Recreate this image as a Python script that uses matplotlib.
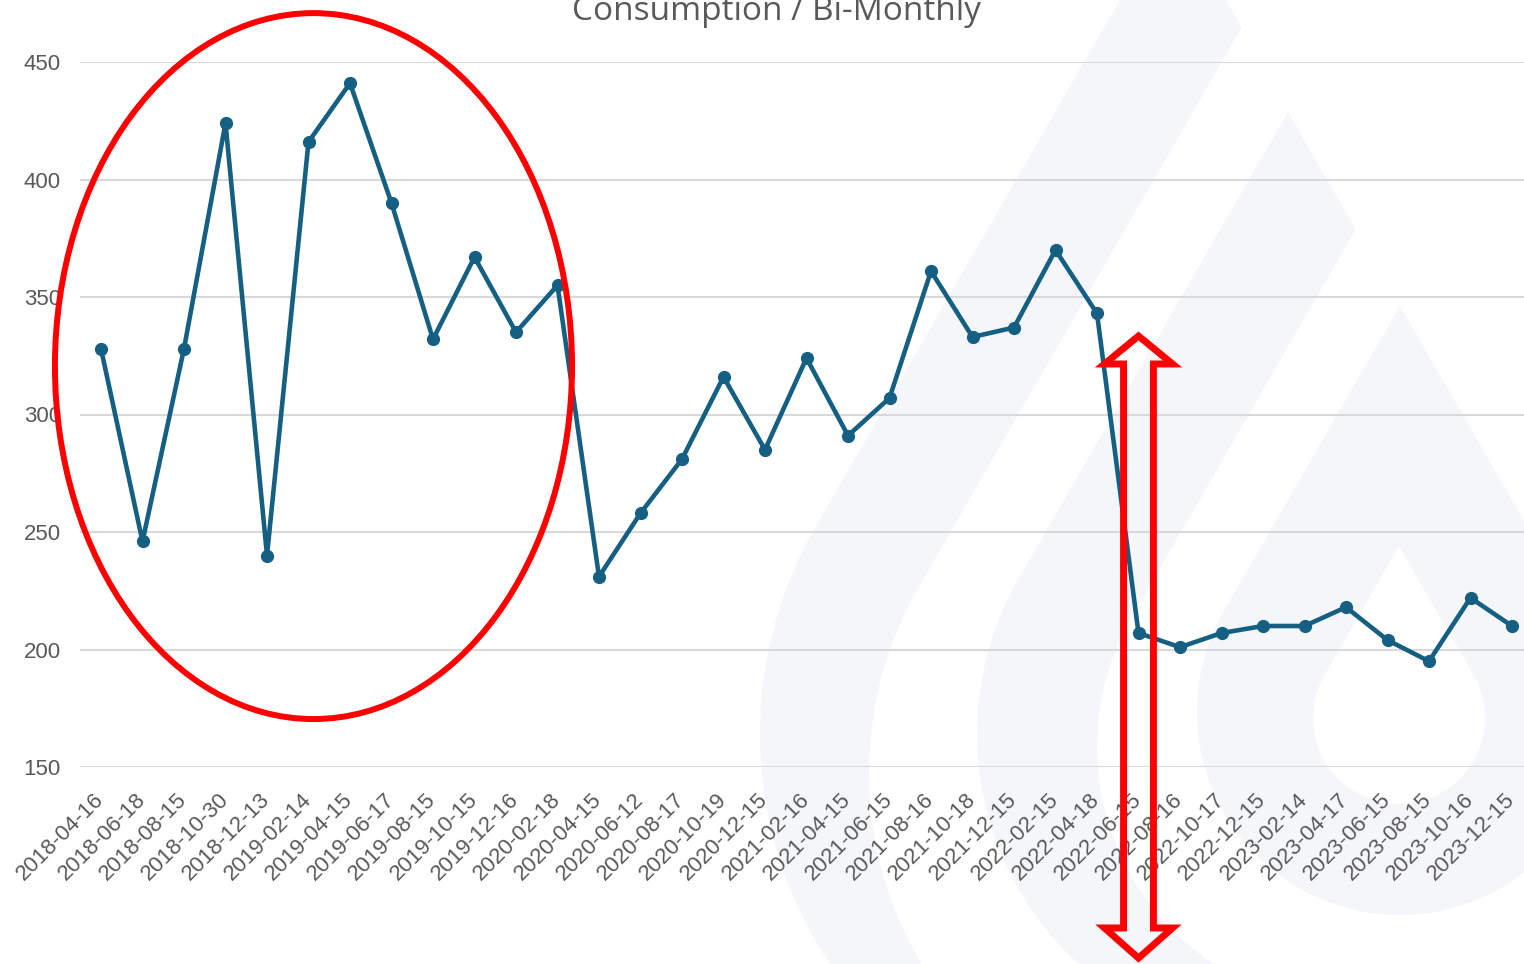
import numpy as np
import matplotlib
matplotlib.use("Agg")
import matplotlib.pyplot as plt
from matplotlib.patches import Ellipse, Polygon

dates = ["2018-04-16", "2018-06-18", "2018-08-15", "2018-10-30", "2018-12-13",
         "2019-02-14", "2019-04-15", "2019-06-17", "2019-08-15", "2019-10-15",
         "2019-12-16", "2020-02-18", "2020-04-15", "2020-06-12", "2020-08-17",
         "2020-10-19", "2020-12-15", "2021-02-16", "2021-04-15", "2021-06-15",
         "2021-08-16", "2021-10-18", "2021-12-15", "2022-02-15", "2022-04-18",
         "2022-06-15", "2022-08-16", "2022-10-17", "2022-12-15", "2023-02-14",
         "2023-04-17", "2023-06-15", "2023-08-15", "2023-10-16", "2023-12-15"]
consumption = [328, 246, 328, 424, 240, 416, 441, 390, 332, 367,
               335, 355, 231, 258, 281, 316, 285, 324, 291, 307,
               361, 333, 337, 370, 343, 207, 201, 207, 210, 210,
               218, 204, 195, 222, 210]
yticks = [150, 200, 250, 300, 350, 400, 450]

W, H = 1524, 964
fig = plt.figure(figsize=(W / 100, H / 100), dpi=100)

# faint logo in the background, laid out in pixel units
bg = fig.add_axes([0, 0, 1, 1], zorder=0)
bg.set_xlim(0, W)
bg.set_ylim(H, 0)
bg.axis("off")


def droplet(cx, cy, r, n=120):
    phi = np.radians(np.linspace(30, -210, n))
    xs = cx + r * np.cos(phi)
    ys = cy - r * np.sin(phi)
    pts = [(cx, cy - 2 * r)] + list(zip(xs, ys))
    return pts


pale = "#f4f6fa"
for (cx, cy, r), col in [((1173, 734, 413), pale), ((1242, 773, 373), "white"),
                         ((1288, 734, 311), pale), ((1357, 747, 260), "white"),
                         ((1400, 712, 203), pale), ((1399, 718, 86), "white")]:
    bg.add_patch(Polygon(droplet(cx, cy, r), closed=True, fc=col, ec="none"))

ax = fig.add_axes([80.25 / W, 197 / H, 1452.5 / W, 705 / H], zorder=1)
ax.set_facecolor("none")

x = np.arange(len(dates))
ax.plot(x, consumption, color="#156082", lw=3.3, marker="o", ms=8.5,
        solid_joinstyle="round", zorder=3)

ax.set_xlim(-0.5, len(dates) - 0.5)
ax.set_ylim(150, 450)
ax.set_yticks(yticks)
ax.set_xticks(x)
ax.set_xticklabels(dates, rotation=45, ha="right", va="center",
                   rotation_mode="anchor")
ax.grid(axis="y", color="#d9d9d9", lw=1.5)
ax.set_axisbelow(True)
for s in ax.spines.values():
    s.set_visible(False)
ax.tick_params(axis="y", length=0, pad=14, labelsize=16, labelcolor="#595959")
ax.tick_params(axis="x", length=0, pad=21, labelsize=16, labelcolor="#595959")
for lab in ax.get_xticklabels() + ax.get_yticklabels():
    lab.set_family("Liberation Sans")

fig.text(776 / W, 1 - 20 / H, "Consumption / Bi-Monthly", ha="center",
         va="baseline", fontsize=24, color="#595959", family="Open Sans")

# red callouts: circled early period and the drop in mid 2022
ax.add_patch(Ellipse((5.12, 320.6), 12.46, 300.4, fill=False, ec="red",
                     lw=4.3, clip_on=False, zorder=5))
cx = 25
hw, sw = 0.82, 0.36
top, top_b, bot_b, bot = 333.4, 321.5, 81.5, 68.7
arrow = [(cx, top), (cx + hw, top_b), (cx + sw, top_b), (cx + sw, bot_b),
         (cx + hw, bot_b), (cx, bot), (cx - hw, bot_b), (cx - sw, bot_b),
         (cx - sw, top_b), (cx - hw, top_b)]
ax.add_patch(Polygon(arrow, closed=True, fill=False, ec="red", lw=5,
                     joinstyle="miter", clip_on=False, zorder=5))

fig.savefig("out.png", dpi=100)
